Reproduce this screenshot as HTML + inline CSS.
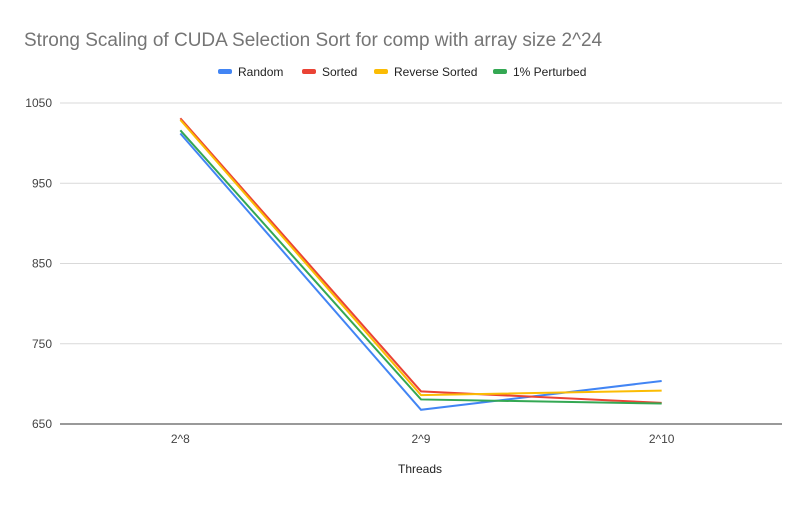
<!DOCTYPE html>
<html><head><meta charset="utf-8"><style>
body{margin:0;background:#fff;font-family:"Liberation Sans",Arial,sans-serif}
</style></head><body>
<svg id="chart" width="808" height="502" xmlns="http://www.w3.org/2000/svg" font-family="Liberation Sans, Arial, sans-serif">
<rect width="808" height="502" fill="#fff"/>
<text x="24" y="46" font-size="19" fill="#757575">Strong Scaling of CUDA Selection Sort for comp with array size 2^24</text>
<g id="legend"></g>
<g id="grid"></g>
<g id="series"></g>
<text x="420" y="473" font-size="12" fill="#222" text-anchor="middle">Threads</text>
</svg>
<script>
const categories = ["2^8","2^9","2^10"];
const seriesNames = ["Random","Sorted","Reverse Sorted","1% Perturbed"];
const random = [1012, 667.7, 703.6];
const sorted = [1031, 690.7, 676.3];
const reverseSorted = [1029, 686, 691.6];
const perturbed = [1016, 680.6, 675.5];
const yTicks = [650, 750, 850, 950, 1050];
const colors = ["#4285f4","#ea4335","#fbbc04","#34a853"];
const allSeries = [random, sorted, reverseSorted, perturbed];
const NS="http://www.w3.org/2000/svg";
const x0=60, x1=782, yMin=650, yMax=1050, py0=424, py1=103;
const xs = i => x0 + (x1-x0)*(i+0.5)/categories.length;
const ys = v => py0 - (v-yMin)/(yMax-yMin)*(py0-py1);
function mk(t,a,p){const e=document.createElementNS(NS,t);for(const k in a)e.setAttribute(k,a[k]);p.appendChild(e);return e;}
const grid=document.getElementById('grid');
yTicks.forEach(v=>{
  const l=mk('line',{x1:x0,x2:x1,y1:ys(v),y2:ys(v),stroke:v===yMin?'#333':'#d9d9d9','stroke-width':1},grid);
  
  
  const t=mk('text',{x:52,y:ys(v)+4,'font-size':12,fill:'#444','text-anchor':'end'},grid);
  t.textContent=v;
  
  
});
categories.forEach((c,i)=>{
  const t=mk('text',{x:xs(i),y:443,'font-size':12,fill:'#444','text-anchor':'middle'},grid);
  t.textContent=c;
  
  
});
const sg=document.getElementById('series');
allSeries.forEach((s,k)=>{
  const p=mk('polyline',{points:s.map((v,i)=>xs(i)+','+ys(v)).join(' '),fill:'none',stroke:colors[k],'stroke-width':2},sg);
  
  
});
const lg=document.getElementById('legend');
const lx=[218,302,374,493];
seriesNames.forEach((n,k)=>{
  const g=mk('g',{},lg);
  
  
  mk('rect',{x:lx[k],y:69,width:14,height:5,rx:2,fill:colors[k]},g);
  const t=mk('text',{x:lx[k]+20,y:76,'font-size':12,fill:'#222'},g);
  t.textContent=n;
});
</script>
</body></html>
